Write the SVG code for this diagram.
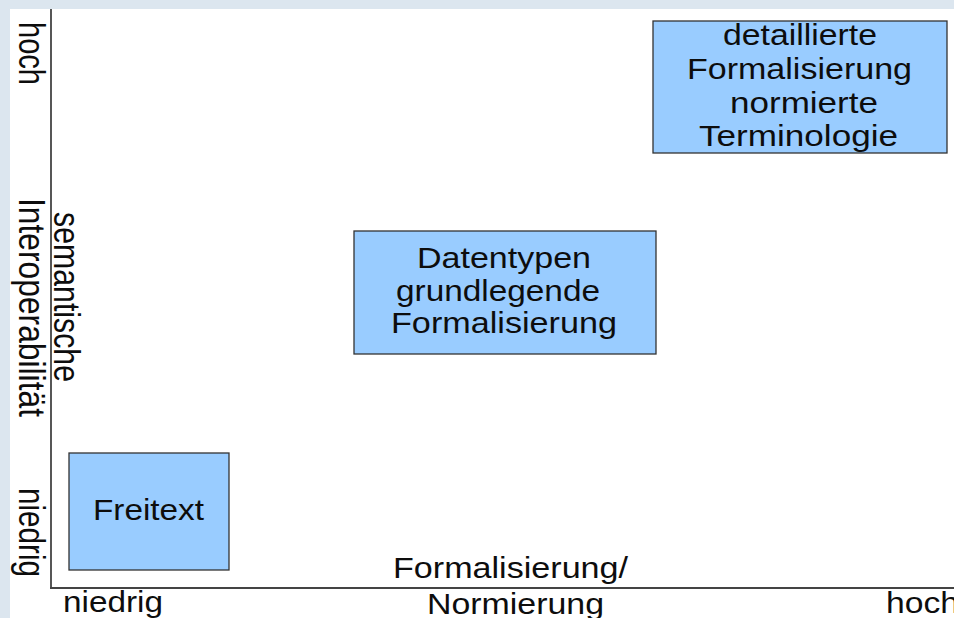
<svg xmlns="http://www.w3.org/2000/svg" width="954" height="618" viewBox="0 0 954 618">
  <style>
    .t { font-family: "Liberation Sans", Arial, sans-serif; font-size: 29px; fill: #0d0d0d; }
    .v { font-family: "Liberation Sans", Arial, sans-serif; font-size: 30px; fill: #0d0d0d; }
    .box { fill: #99ccff; stroke: #333; stroke-width: 1.3; }
    .axis { stroke: #444; stroke-width: 1.8; fill: none; }
  </style>

  <!-- page frame -->
  <rect x="0" y="0" width="954" height="618" fill="#dce6ef"/>
  <rect x="10" y="9" width="944" height="609" fill="#ffffff"/>

  <!-- axes -->
  <g id="axes">
    <line class="axis" x1="51" y1="9" x2="51" y2="588"/>
    <line class="axis" x1="50" y1="588" x2="954" y2="588"/>
  </g>

  <!-- vertical axis labels -->
  <g id="y-labels">
    <text class="v" transform="translate(19,22) rotate(90) scale(1,1.2)" textLength="63" lengthAdjust="spacingAndGlyphs">hoch</text>
    <text class="v" transform="translate(54,212) rotate(90) scale(1,1.2)" textLength="170" lengthAdjust="spacingAndGlyphs">semantische</text>
    <text class="v" transform="translate(19,198) rotate(90) scale(1,1.2)" textLength="219" lengthAdjust="spacingAndGlyphs">Interoperabilität</text>
    <text class="v" transform="translate(19,488) rotate(90) scale(1,1.2)" textLength="89" lengthAdjust="spacingAndGlyphs">niedrig</text>
  </g>

  <!-- horizontal axis labels -->
  <g id="x-labels">
    <text class="t" x="63" y="612" textLength="100" lengthAdjust="spacingAndGlyphs">niedrig</text>
    <text class="t" x="393" y="578" textLength="235" lengthAdjust="spacingAndGlyphs">Formalisierung/</text>
    <text class="t" x="427" y="614" textLength="177" lengthAdjust="spacingAndGlyphs">Normierung</text>
    <text class="t" x="886" y="613" textLength="73" lengthAdjust="spacingAndGlyphs">hoch</text>
  </g>

  <!-- level: free text -->
  <g id="node-freitext">
    <rect class="box" x="69" y="453" width="160" height="117"/>
    <text class="t" x="93" y="520" textLength="111" lengthAdjust="spacingAndGlyphs">Freitext</text>
  </g>

  <!-- level: data types -->
  <g id="node-datentypen">
    <rect class="box" x="354" y="231" width="302" height="123"/>
    <text class="t" x="417" y="268" textLength="174" lengthAdjust="spacingAndGlyphs">Datentypen</text>
    <text class="t" x="396" y="301" textLength="204" lengthAdjust="spacingAndGlyphs">grundlegende</text>
    <text class="t" x="391" y="333" textLength="226" lengthAdjust="spacingAndGlyphs">Formalisierung</text>
  </g>

  <!-- level: detailed formalisation -->
  <g id="node-detailliert">
    <rect class="box" x="653" y="21" width="294" height="132"/>
    <text class="t" x="723" y="45" textLength="154" lengthAdjust="spacingAndGlyphs">detaillierte</text>
    <text class="t" x="687" y="79" textLength="225" lengthAdjust="spacingAndGlyphs">Formalisierung</text>
    <text class="t" x="730" y="113" textLength="148" lengthAdjust="spacingAndGlyphs">normierte</text>
    <text class="t" x="699" y="146" textLength="199" lengthAdjust="spacingAndGlyphs">Terminologie</text>
  </g>
</svg>
